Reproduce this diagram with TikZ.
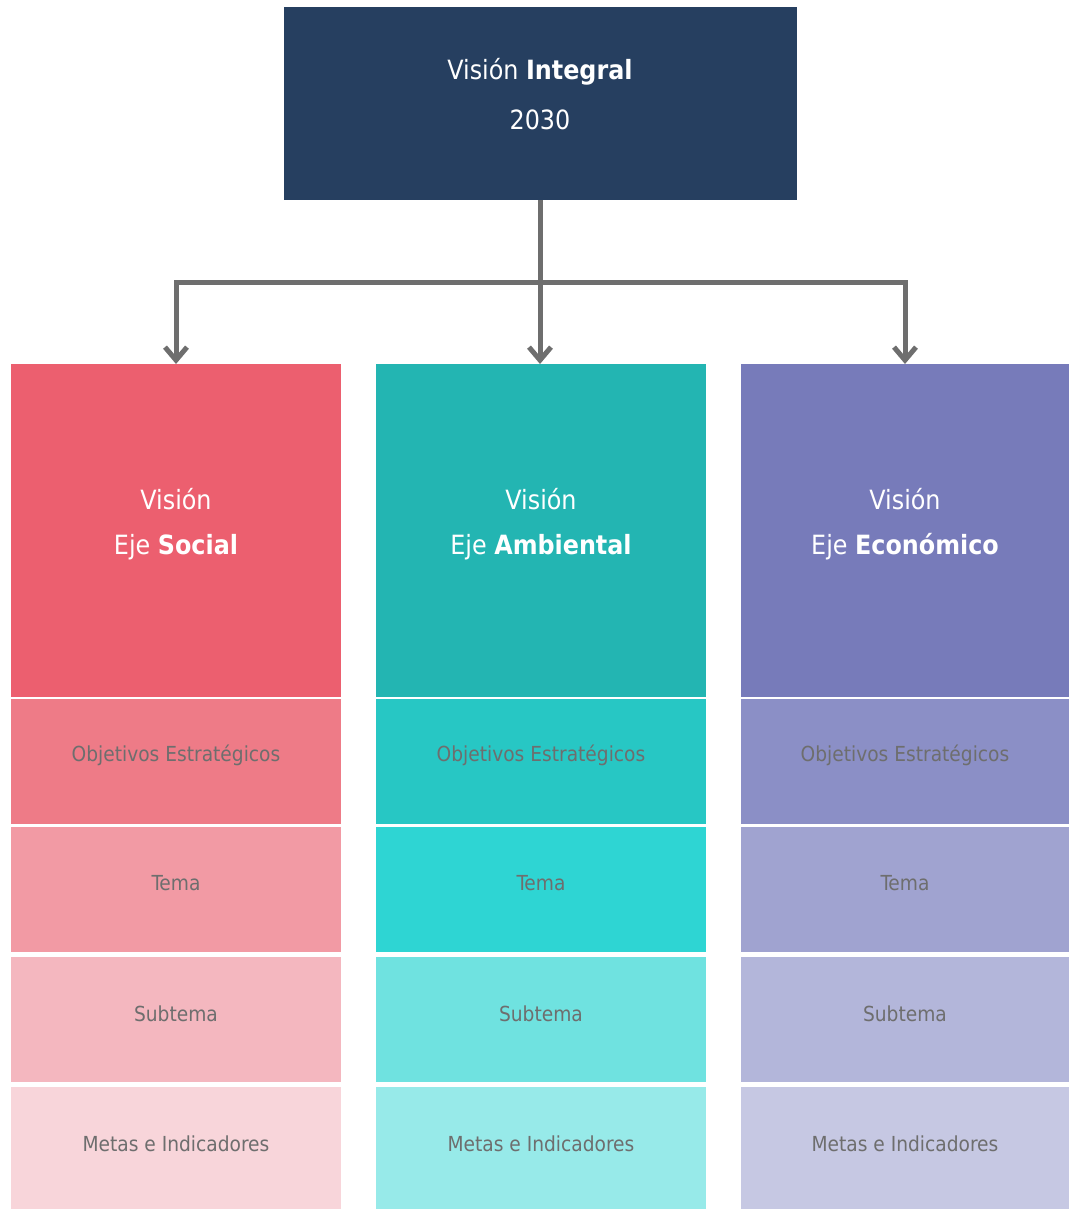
\documentclass[tikz,border=0pt]{standalone}
\usepackage{fontspec}
\setmainfont{DejaVu Sans Condensed}
\usetikzlibrary{arrows.meta}
\definecolor{navy}{HTML}{263F60}
\definecolor{rA}{HTML}{EC5F6F}\definecolor{rB}{HTML}{EE7B87}\definecolor{rC}{HTML}{F29AA4}\definecolor{rD}{HTML}{F4B7BF}\definecolor{rE}{HTML}{F8D5DA}
\definecolor{tA}{HTML}{23B5B2}\definecolor{tB}{HTML}{27C7C4}\definecolor{tC}{HTML}{2ED5D3}\definecolor{tD}{HTML}{6FE2E0}\definecolor{tE}{HTML}{97EAE9}
\definecolor{pA}{HTML}{777BBA}\definecolor{pB}{HTML}{8B8FC6}\definecolor{pC}{HTML}{A0A3D0}\definecolor{pD}{HTML}{B3B6DA}\definecolor{pE}{HTML}{C6C8E3}
\definecolor{txtgray}{HTML}{6E6E6E}
\definecolor{conn}{HTML}{6E6E6E}
\begin{document}
\begin{tikzpicture}[x=1pt,y=-1pt,
  box/.style={rectangle,inner sep=0pt,outer sep=0pt,anchor=north west,draw=none},
  bigtxt/.style={text=white,font=\fontsize{26.5}{31}\selectfont,inner sep=0pt},
  rowtxt/.style={text=txtgray,font=\fontsize{20.7}{25}\selectfont,inner sep=0pt},
  conn/.style={draw=conn,line width=5pt},
  arr/.style={conn,-{Straight Barb[length=13pt,width=22pt,line width=5pt]}}
]
\useasboundingbox (0,0) rectangle (1069,1209);
% top box
\node[box,fill=navy,minimum width=513pt,minimum height=193pt] (top) at (284,7) {};
\node[bigtxt] (t1) at (540,72) {Visión \textbf{Integral}};
\node[bigtxt] (t2) at (540,120) {2030};
% columns
\foreach \n/\x/\ca/\cb/\cc/\cd/\ce/\w/\word in {s/11/rA/rB/rC/rD/rE/330/Social, a/376/tA/tB/tC/tD/tE/330/Ambiental, e/741/pA/pB/pC/pD/pE/328/Económico}{
  \node[box,fill=\ca,minimum width=\w pt,minimum height=333pt] (\n0) at (\x,364) {};
  \node[box,fill=\cb,minimum width=\w pt,minimum height=125pt] (\n1) at (\x,699) {};
  \node[box,fill=\cc,minimum width=\w pt,minimum height=125pt] (\n2) at (\x,827) {};
  \node[box,fill=\cd,minimum width=\w pt,minimum height=125pt] (\n3) at (\x,957) {};
  \node[box,fill=\ce,minimum width=\w pt,minimum height=122pt] (\n4) at (\x,1087) {};
  \node[bigtxt] (\n v) at ([yshift=31.5pt]\n0.center) {Visión};
  \node[bigtxt] (\n e) at ([yshift=-16.5pt]\n0.center) {Eje \textbf{\word}};
  \node[rowtxt] (\n t1) at ([yshift=6.5pt]\n1.center) {Objetivos Estratégicos};
  \node[rowtxt] (\n t2) at ([yshift=6.5pt]\n2.center) {Tema};
  \node[rowtxt] (\n t3) at ([yshift=5.5pt]\n3.center) {Subtema};
  \node[rowtxt] (\n t4) at ([yshift=4pt]\n4.center) {Metas e Indicadores};
}
% connectors
\coordinate (hub) at (540,282);
\draw[conn] (top.south -| hub) -- (hub);
\draw[arr] (hub) -| (s0.north);
\draw[arr] (hub) -- (a0.north -| hub);
\draw[arr] (hub) -| (e0.north);
\end{tikzpicture}
\end{document}
